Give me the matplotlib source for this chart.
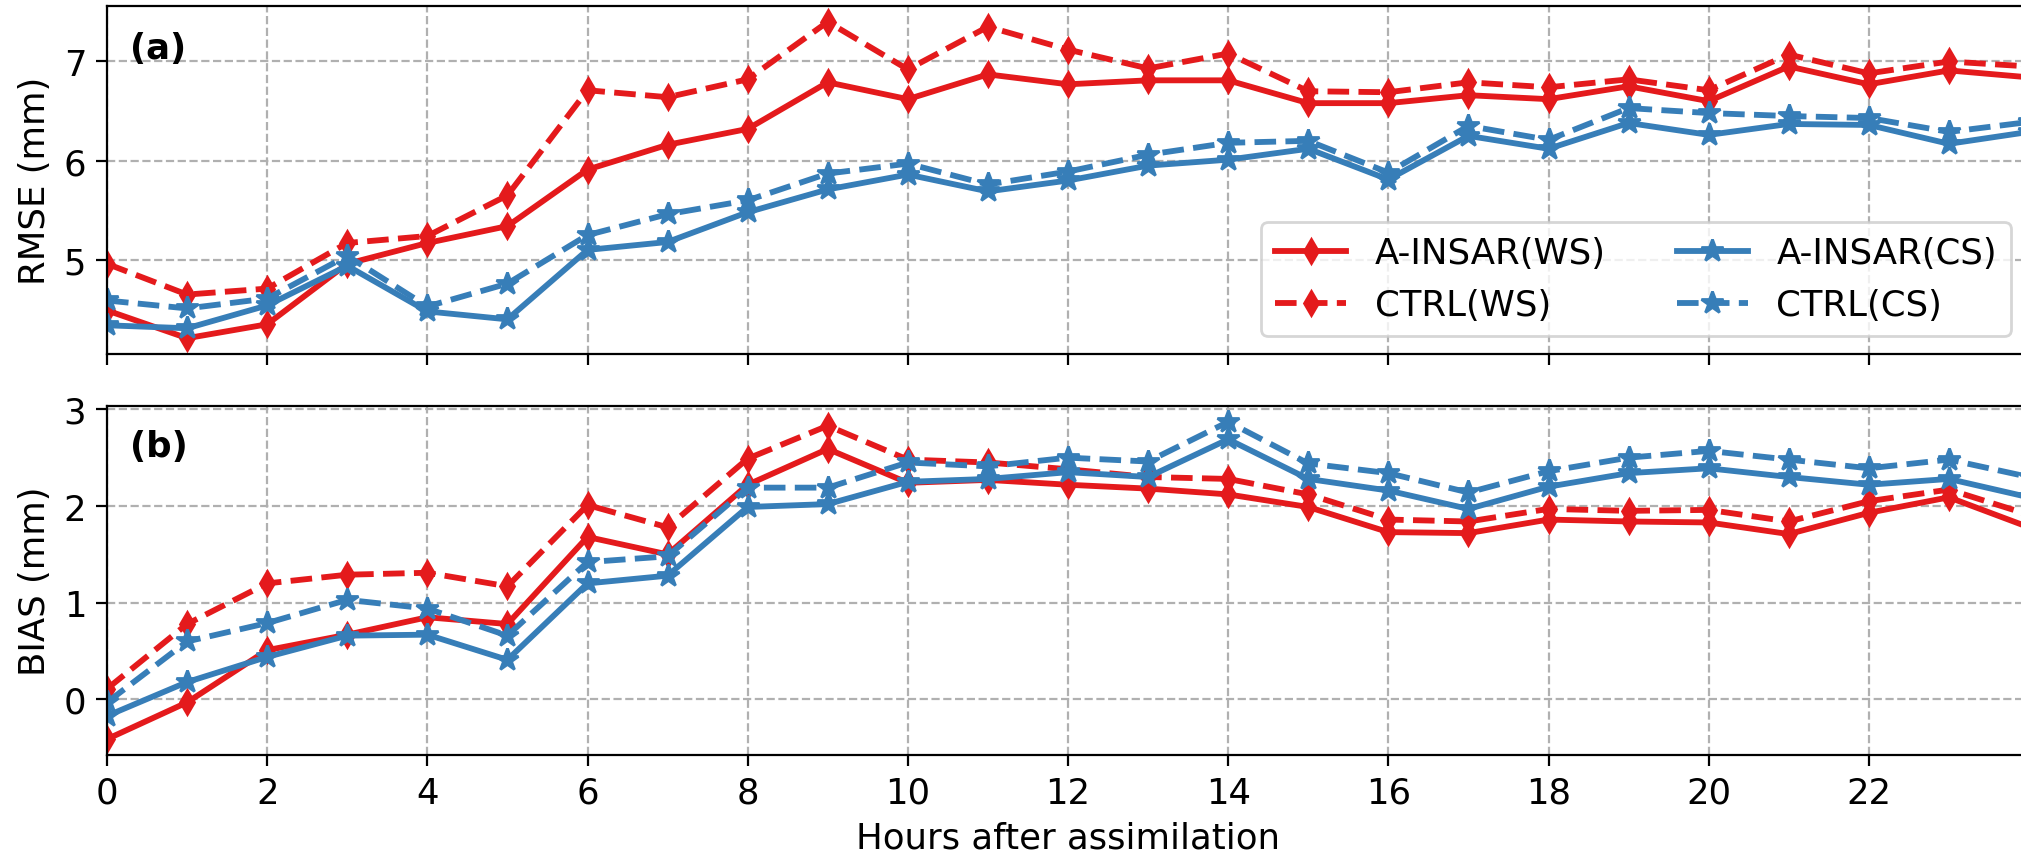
import matplotlib
matplotlib.use("Agg")
import matplotlib.pyplot as plt
import numpy as np

# hours after assimilation
hours = np.arange(0, 25)

# RMSE (mm)
rmse_ainsar_ws = [4.49, 4.21, 4.35, 4.96, 5.17, 5.34, 5.91, 6.16, 6.32, 6.79, 6.62, 6.87, 6.77,
                  6.81, 6.81, 6.58, 6.58, 6.66, 6.62, 6.75, 6.60, 6.95, 6.77, 6.91, 6.84]
rmse_ctrl_ws = [4.96, 4.65, 4.71, 5.17, 5.24, 5.65, 6.71, 6.64, 6.82, 7.40, 6.92, 7.35, 7.12,
                6.93, 7.08, 6.70, 6.69, 6.79, 6.74, 6.82, 6.71, 7.07, 6.88, 7.00, 6.95]
rmse_ainsar_cs = [4.34, 4.31, 4.54, 4.94, 4.48, 4.40, 5.10, 5.18, 5.48, 5.71, 5.86, 5.69, 5.80,
                  5.95, 6.01, 6.12, 5.81, 6.25, 6.12, 6.38, 6.26, 6.37, 6.36, 6.17, 6.29]
rmse_ctrl_cs = [4.59, 4.51, 4.61, 5.04, 4.53, 4.76, 5.25, 5.46, 5.60, 5.87, 5.97, 5.76, 5.89,
                6.06, 6.18, 6.20, 5.88, 6.35, 6.21, 6.53, 6.48, 6.45, 6.43, 6.29, 6.39]

# BIAS (mm)
bias_ainsar_ws = [-0.41, -0.03, 0.51, 0.67, 0.85, 0.78, 1.68, 1.50, 2.22, 2.59, 2.24, 2.27, 2.22,
                  2.18, 2.12, 1.99, 1.73, 1.72, 1.86, 1.84, 1.83, 1.71, 1.93, 2.09, 1.78]
bias_ctrl_ws = [0.11, 0.78, 1.20, 1.29, 1.31, 1.17, 2.01, 1.78, 2.49, 2.83, 2.48, 2.45, 2.38,
                2.30, 2.28, 2.12, 1.86, 1.84, 1.97, 1.95, 1.96, 1.84, 2.05, 2.17, 1.91]
bias_ainsar_cs = [-0.17, 0.18, 0.44, 0.66, 0.67, 0.41, 1.20, 1.28, 1.99, 2.02, 2.25, 2.28, 2.35,
                  2.30, 2.69, 2.28, 2.16, 1.97, 2.20, 2.34, 2.39, 2.30, 2.22, 2.28, 2.09]
bias_ctrl_cs = [-0.03, 0.60, 0.79, 1.03, 0.94, 0.66, 1.42, 1.48, 2.19, 2.19, 2.45, 2.41, 2.50,
                2.46, 2.87, 2.44, 2.34, 2.14, 2.36, 2.50, 2.57, 2.48, 2.39, 2.48, 2.30]

labels = ["A-INSAR(WS)", "CTRL(WS)", "A-INSAR(CS)", "CTRL(CS)"]
red = "#e41a1c"
blue = "#377eb8"

plt.rcParams["font.family"] = "DejaVu Sans"
plt.rcParams["font.size"] = 12.8

W, H, DPI = 2021, 853, 200
fig = plt.figure(figsize=(W / DPI, H / DPI), dpi=DPI)

# axes run slightly past the right edge, as in the cropped original
left = 107 / W
width = (2029 - 107) / W
ax1 = fig.add_axes([left, 1 - 355 / H, width, 348 / H])
ax2 = fig.add_axes([left, 1 - 756 / H, width, 349 / H], sharex=ax1)

line_kw = dict(lw=2.1, ms=6.3)
star_kw = dict(lw=2.1, ms=8.3)


def draw_panel(ax, a_ws, c_ws, a_cs, c_cs):
    ax.plot(hours, a_ws, color=red, ls="-", marker="d", label=labels[0], **line_kw)
    ax.plot(hours, c_ws, color=red, ls="--", marker="d", label=labels[1], **line_kw)
    ax.plot(hours, a_cs, color=blue, ls="-", marker="*", label=labels[2], **star_kw)
    ax.plot(hours, c_cs, color=blue, ls="--", marker="*", label=labels[3], **star_kw)
    ax.grid(True, ls="--", lw=0.8, color="#b0b0b0")
    ax.set_axisbelow(True)
    ax.tick_params(length=4)


draw_panel(ax1, rmse_ainsar_ws, rmse_ctrl_ws, rmse_ainsar_cs, rmse_ctrl_cs)
draw_panel(ax2, bias_ainsar_ws, bias_ctrl_ws, bias_ainsar_cs, bias_ctrl_cs)

ax1.set_xlim(0, 24)
ax2.set_xticks(range(0, 24, 2))
ax1.tick_params(labelbottom=False)
ax1.set_yticks([5, 6, 7])
ax2.set_yticks([0, 1, 2, 3])

ax1.set_ylabel("RMSE (mm)")
ax2.set_ylabel("BIAS (mm)")
ax2.set_xlabel("Hours after assimilation")

ax1.text(0.012, 0.88, "(a)", transform=ax1.transAxes, fontweight="bold", ha="left", va="center")
ax2.text(0.012, 0.885, "(b)", transform=ax2.transAxes, fontweight="bold", ha="left", va="center")

ax1.legend(loc="lower right", ncol=2)

fig.savefig("out.png", dpi=DPI)
